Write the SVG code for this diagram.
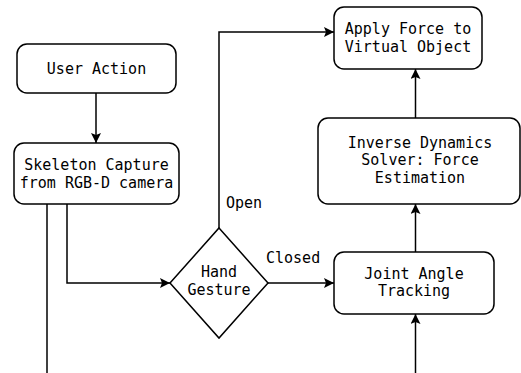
<svg xmlns="http://www.w3.org/2000/svg" width="521" height="373" viewBox="0 0 521 373">
<defs>
<style>
.n{fill:#fff;stroke:#000;stroke-width:1.5}
.t{font-family:"DejaVu Sans Mono","Liberation Mono",monospace;font-size:15px;fill:#000;text-anchor:middle;dominant-baseline:central}
.l{font-family:"DejaVu Sans Mono","Liberation Mono",monospace;font-size:15px;fill:#000;dominant-baseline:central}
.c{fill:none;stroke:#000;stroke-width:1.5}
</style>
<marker id="a" viewBox="0 0 10 10" refX="10" refY="5" markerWidth="10" markerHeight="10" markerUnits="userSpaceOnUse" orient="auto">
<path d="M0,0 L10,5 L0,10 L2,5 Z" fill="#000"/>
</marker>
</defs>
<rect width="521" height="373" fill="#fff"/>
<g id="connectors">
<path class="c" d="M96,93 V143" marker-end="url(#a)"/>
<path class="c" d="M67,204 V283 H170" marker-end="url(#a)"/>
<path class="c" d="M47,204 V373"/>
<path class="c" d="M219,228 V32 H334" marker-end="url(#a)"/>
<path class="c" d="M268,283 H334" marker-end="url(#a)"/>
<path class="c" d="M415.5,373 V314" marker-end="url(#a)"/>
<path class="c" d="M415.5,252 V204" marker-end="url(#a)"/>
<path class="c" d="M415.5,118 V69" marker-end="url(#a)"/>
<text class="l" x="226" y="203">Open</text>
<text class="l" x="266" y="258">Closed</text>
</g>
<g id="user-action">
<rect class="n" x="17" y="44" width="159" height="49" rx="10"/>
<text class="t" x="96.5" y="68.5">User Action</text>
</g>
<g id="skeleton-capture">
<rect class="n" x="14" y="143" width="165" height="61" rx="10"/>
<text class="t" x="96.5" y="164.5">Skeleton Capture</text>
<text class="t" x="96.5" y="182.5">from RGB-D camera</text>
</g>
<g id="hand-gesture">
<polygon class="n" points="219,228 268,283 219,338 170,283"/>
<text class="t" x="219" y="272">Hand</text>
<text class="t" x="219" y="290">Gesture</text>
</g>
<g id="apply-force">
<rect class="n" x="334" y="7" width="148" height="62" rx="10"/>
<text class="t" x="408" y="29">Apply Force to</text>
<text class="t" x="408" y="47">Virtual Object</text>
</g>
<g id="inverse-dynamics">
<rect class="n" x="318" y="118" width="202" height="86" rx="10"/>
<text class="t" x="420" y="142.5">Inverse Dynamics</text>
<text class="t" x="420" y="160">Solver: Force</text>
<text class="t" x="420" y="177.5">Estimation</text>
</g>
<g id="joint-angle">
<rect class="n" x="334" y="252" width="160" height="62" rx="10"/>
<text class="t" x="414" y="273.5">Joint Angle</text>
<text class="t" x="414" y="291">Tracking</text>
</g>
</svg>
